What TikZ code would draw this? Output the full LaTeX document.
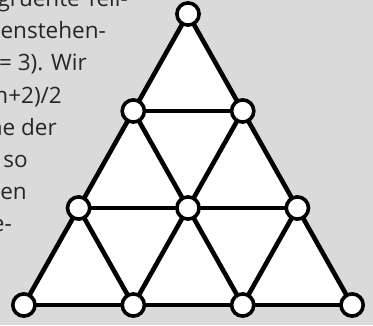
\documentclass[tikz,border=0pt]{standalone}
\usepackage{fontspec}
\setmainfont{Open Sans}
\usetikzlibrary{backgrounds}
\definecolor{paper}{RGB}{218,218,218}

\begin{document}
\begin{tikzpicture}[
		x=1pt, y=1pt,
		vertex/.style={draw, circle, fill=white, line width=3.6pt, minimum size=22.2pt, inner sep=0pt, outer sep=0pt},
		edge/.style={line width=4.6pt},
		textline/.style={anchor=base east, inner sep=0pt, font=\fontsize{22.5}{32}\selectfont, text=black!85}
		]
		
		\clip (0,0) rectangle (373,325);
		
		% Text beside the triangle
		\node[textline] (t1) at (128,318.3) {gruente Teil-};
		\node[textline] (t2) at (106,286.2) {benstehen-};
		\node[textline] (t3) at (87,254.1) {= 3). Wir};
		\node[textline] (t4) at (62,222) {n+2)/2};
		\node[textline] (t5) at (57,190) {ne der};
		\node[textline] (t6) at (28,158) {so};
		\node[textline] (t7) at (27,126) {en};
		\node[textline] (t8) at (12,94) {e-};
		
		% Vertices
		\node[vertex] (a)  at (188,311) {};
		\node[vertex] (b1) at (133.3,214) {};
		\node[vertex] (b2) at (242.7,214) {};
		\node[vertex] (c1) at (78.6,117) {};
		\node[vertex] (c2) at (188,117) {};
		\node[vertex] (c3) at (297.4,117) {};
		\node[vertex] (d1) at (23.9,20) {};
		\node[vertex] (d2) at (133.3,20) {};
		\node[vertex] (d3) at (242.7,20) {};
		\node[vertex] (d4) at (352.1,20) {};
		
		% Edges
		\draw[edge] (a) -- (b1);
		\draw[edge] (a) -- (b2);
		\draw[edge] (b1) -- (b2);
		\draw[edge] (b1) -- (c1);
		\draw[edge] (b1) -- (c2);
		\draw[edge] (b2) -- (c2);
		\draw[edge] (b2) -- (c3);
		\draw[edge] (c1) -- (c2);
		\draw[edge] (c2) -- (c3);
		\draw[edge] (c1) -- (d1);
		\draw[edge] (c1) -- (d2);
		\draw[edge] (c2) -- (d2);
		\draw[edge] (c2) -- (d3);
		\draw[edge] (c3) -- (d3);
		\draw[edge] (c3) -- (d4);
		\draw[edge] (d1) -- (d2);
		\draw[edge] (d2) -- (d3);
		\draw[edge] (d3) -- (d4);
		
		% Paper and triangle fill
		\begin{scope}[on background layer]
			\fill[paper] (0,0) rectangle (373,325);
			\fill[white] (a.center) -- (d1.center) -- (d4.center) -- cycle;
		\end{scope}
		
	\end{tikzpicture}
\end{document}
